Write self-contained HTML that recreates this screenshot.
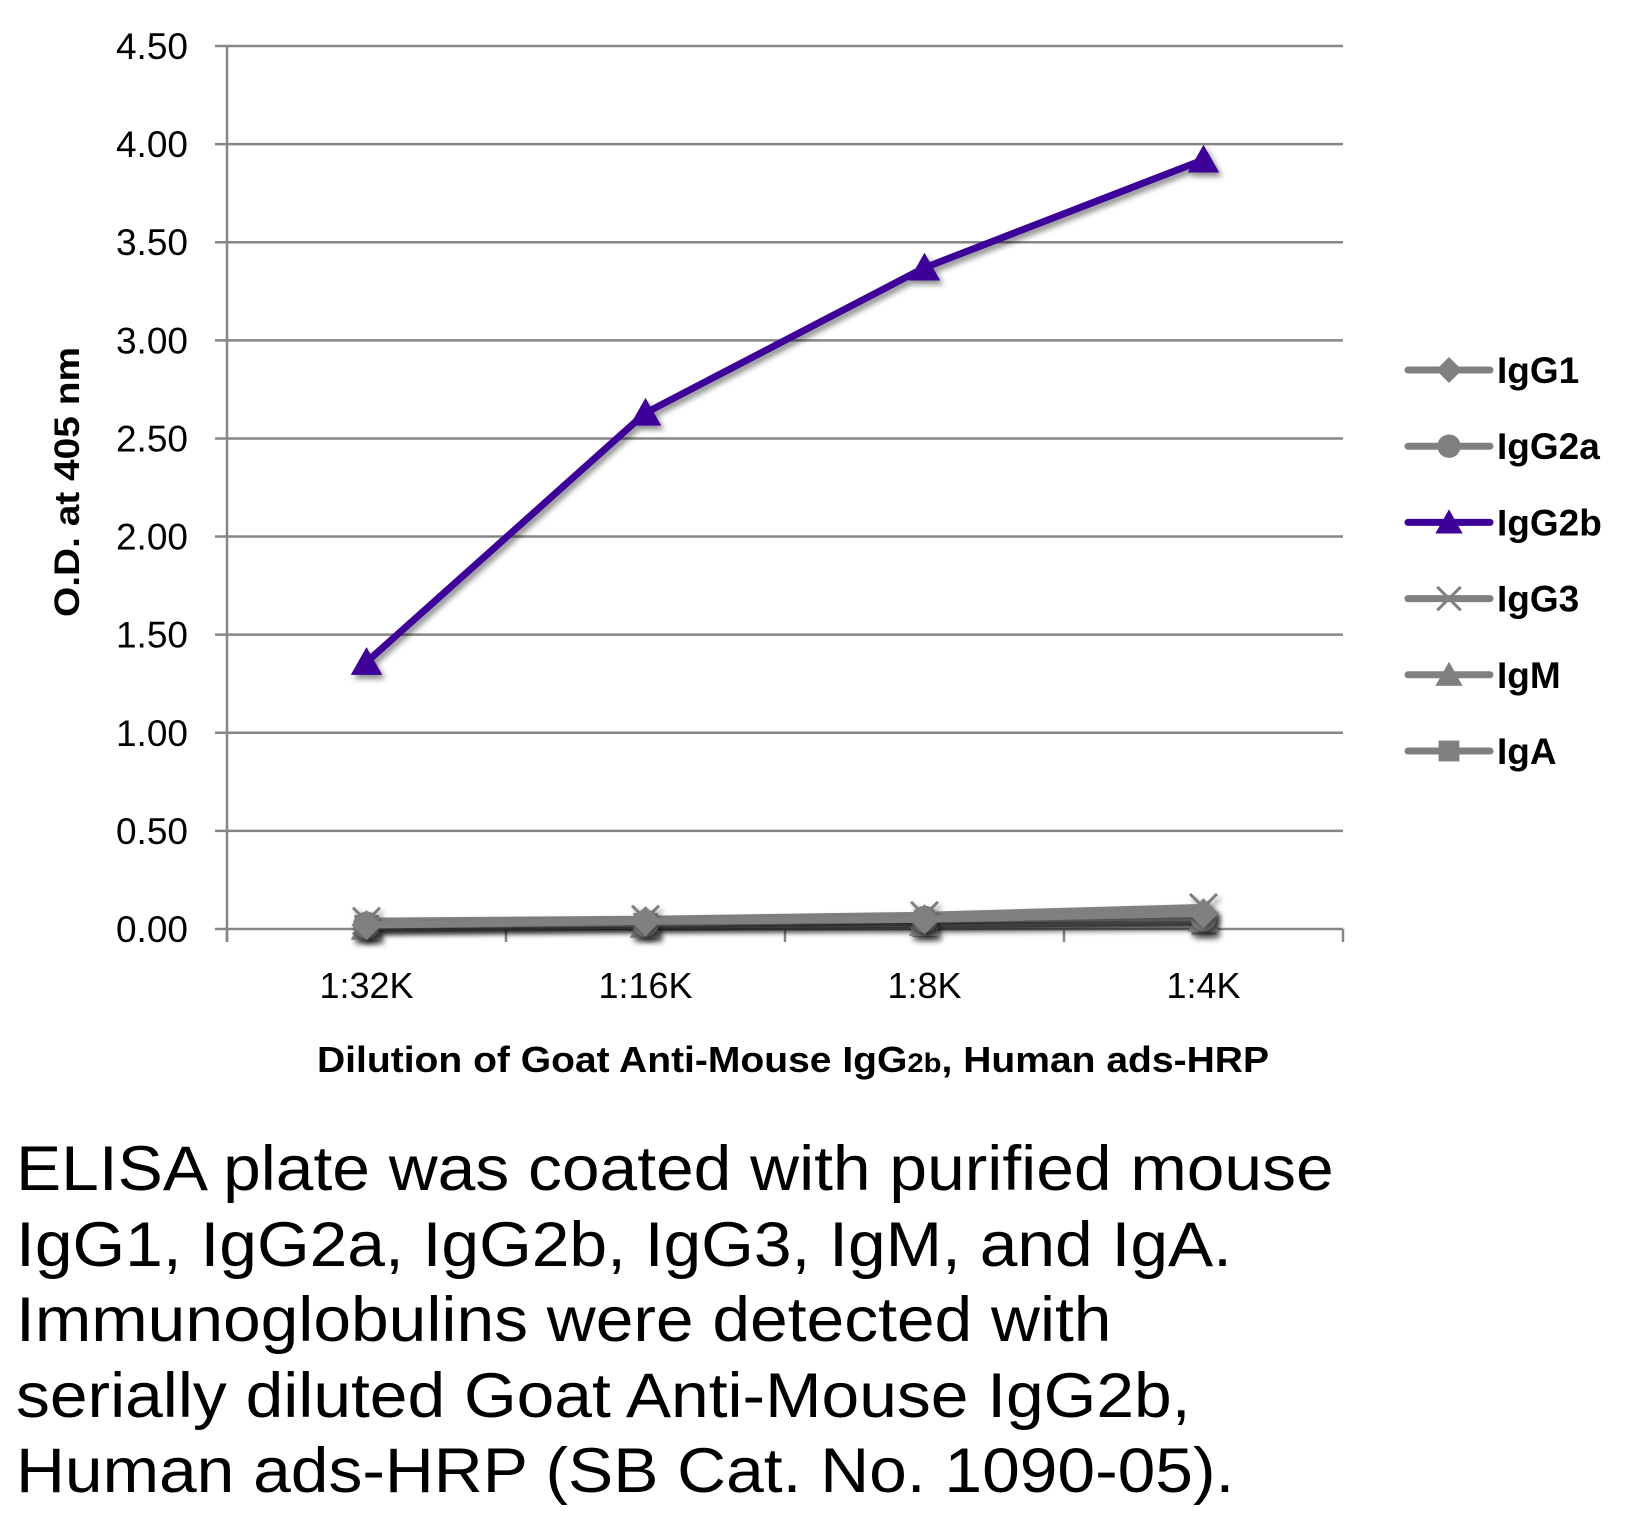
<!DOCTYPE html>
<html><head><meta charset="utf-8"><style>
html,body{margin:0;padding:0;background:#fff;width:1652px;height:1517px;overflow:hidden}
svg{position:absolute;left:0;top:0}
.cap{position:absolute;left:16px;top:1132px;font-family:"Liberation Sans",sans-serif;font-size:63px;line-height:75.5px;color:#000;white-space:nowrap;transform:scaleX(1.075);transform-origin:0 0}
</style></head><body>
<svg id="chart" width="1652" height="1100" xmlns="http://www.w3.org/2000/svg">
<defs><filter id="sh" x="-50%" y="-50%" width="200%" height="200%"><feDropShadow dx="3" dy="4" stdDeviation="3" flood-color="#000" flood-opacity="0.45"/></filter></defs>
<g id="grid"></g><g id="axes"></g><g id="series"></g><g id="legend"></g>
</svg>
<div class="cap">ELISA plate was coated with purified mouse<br>IgG1, IgG2a, IgG2b, IgG3, IgM, and IgA.<br>Immunoglobulins were detected with<br>serially diluted Goat Anti-Mouse IgG2b,<br>Human ads-HRP (SB Cat. No. 1090-05).</div>
<script>
const categories = ["1:32K","1:16K","1:8K","1:4K"];
const yTicks = [0,0.5,1,1.5,2,2.5,3,3.5,4,4.5];
const seriesNames = ["IgG1","IgG2a","IgG2b","IgG3","IgM","IgA"];
const igG1 = [0.02,0.04,0.05,0.08];
const igG2a = [0.02,0.03,0.05,0.06];
const igG2b = [1.36,2.63,3.37,3.92];
const igG3 = [0.04,0.05,0.07,0.11];
const igM = [0.01,0.02,0.03,0.05];
const igA = [0.01,0.02,0.02,0.03];
const seriesData = [igG1,igG2a,igG2b,igG3,igM,igA];
const markers = ["diamond","circle","triangle","x","triangle","square"];
const colors = ["#808080","#808080","#3d0099","#808080","#808080","#808080"];

const NS="http://www.w3.org/2000/svg";
const X0=227,X1=1343,Y0=929,YTOP=46,YMAX=4.5;
const bw=(X1-X0)/categories.length;
const xs=i=>X0+bw*(i+0.5);
const ys=v=>Y0-(v/YMAX)*(Y0-YTOP);
function mk(tag,attrs,parent){const e=document.createElementNS(NS,tag);for(const k in attrs)e.setAttribute(k,attrs[k]);parent.appendChild(e);return e;}
const grid=document.getElementById('grid'),axes=document.getElementById('axes'),ser=document.getElementById('series'),leg=document.getElementById('legend');
const font='"Liberation Sans",sans-serif';
yTicks.forEach(t=>{
  const l=mk('line',{x1:215,x2:X1,y1:ys(t),y2:ys(t),stroke:'#868686','stroke-width':2.5},grid);
  
  
  const tx=mk('text',{x:188,y:ys(t)+13,'text-anchor':'end','font-family':font,'font-size':37,fill:'#000'},axes);
  tx.textContent=t.toFixed(2);
  
  
});
const ya=mk('line',{x1:X0,x2:X0,y1:YTOP,y2:942,stroke:'#868686','stroke-width':2.5},axes);


for(let i=0;i<=categories.length;i++){
  const tk=mk('line',{x1:X0+bw*i,x2:X0+bw*i,y1:Y0,y2:942,stroke:'#868686','stroke-width':2.5},axes);
  
  
}
categories.forEach((c,i)=>{
  const t=mk('text',{x:xs(i),y:998,'text-anchor':'middle','font-family':font,'font-size':36,fill:'#000'},axes);
  t.textContent=c;
  
  
});
const xt=mk('text',{x:793,y:1072,'text-anchor':'middle','font-family':font,'font-size':36,'font-weight':'bold',fill:'#000',textLength:952,lengthAdjust:'spacingAndGlyphs'},axes);
xt.innerHTML='Dilution of Goat Anti-Mouse IgG<tspan font-size="27">2b</tspan>, Human ads-HRP';


const yt=mk('text',{x:0,y:0,transform:'translate(79,482) rotate(-90)','text-anchor':'middle','font-family':font,'font-size':35,'font-weight':'bold',fill:'#000',textLength:270,lengthAdjust:'spacingAndGlyphs'},axes);
yt.textContent='O.D. at 405 nm';



function marker(type,x,y,col,parent,s){
  let e;
  if(type==='diamond')e=mk('polygon',{points:`${x},${y-s} ${x+s},${y} ${x},${y+s} ${x-s},${y}`,fill:col},parent);
  else if(type==='circle')e=mk('circle',{cx:x,cy:y,r:s*0.9,fill:col},parent);
  else if(type==='triangle')e=mk('polygon',{points:`${x},${y-s} ${x+s*1.05},${y+s*0.85} ${x-s*1.05},${y+s*0.85}`,fill:col},parent);
  else if(type==='square')e=mk('rect',{x:x-s*0.8,y:y-s*0.8,width:s*1.6,height:s*1.6,fill:col},parent);
  else {e=mk('path',{d:`M${x-s*0.9},${y-s*0.9}L${x+s*0.9},${y+s*0.9}M${x+s*0.9},${y-s*0.9}L${x-s*0.9},${y+s*0.9}`,stroke:col,'stroke-width':3,fill:'none'},parent);}
  return e;
}
const order=[5,4,3,1,0,2];
order.forEach(si=>{
  const g=mk('g',{filter:'url(#sh)'},ser);
  
  
  const d=seriesData[si];
  const pts=d.map((v,i)=>xs(i)+','+ys(v)).join(' ');
  const pl=mk('polyline',{points:pts,fill:'none',stroke:colors[si],'stroke-width':7,'stroke-linejoin':'round'},g);
  
  
  d.forEach((v,i)=>{
    const m=marker(markers[si],xs(i),ys(v),colors[si],g,15);
    
    
  });
});
seriesNames.forEach((n,i)=>{
  const y=370+i*76.2;
  const g=mk('g',{},leg);
  
  
  mk('line',{x1:1408,x2:1490,y1:y,y2:y,stroke:colors[i],'stroke-width':7,'stroke-linecap':'round'},g);
  marker(markers[i],1449,y,colors[i],g,13);
  const t=mk('text',{x:1497,y:y+13,'font-family':font,'font-size':37,'font-weight':'bold',fill:'#000'},g);
  t.textContent=n;
});
</script>
</body></html>
